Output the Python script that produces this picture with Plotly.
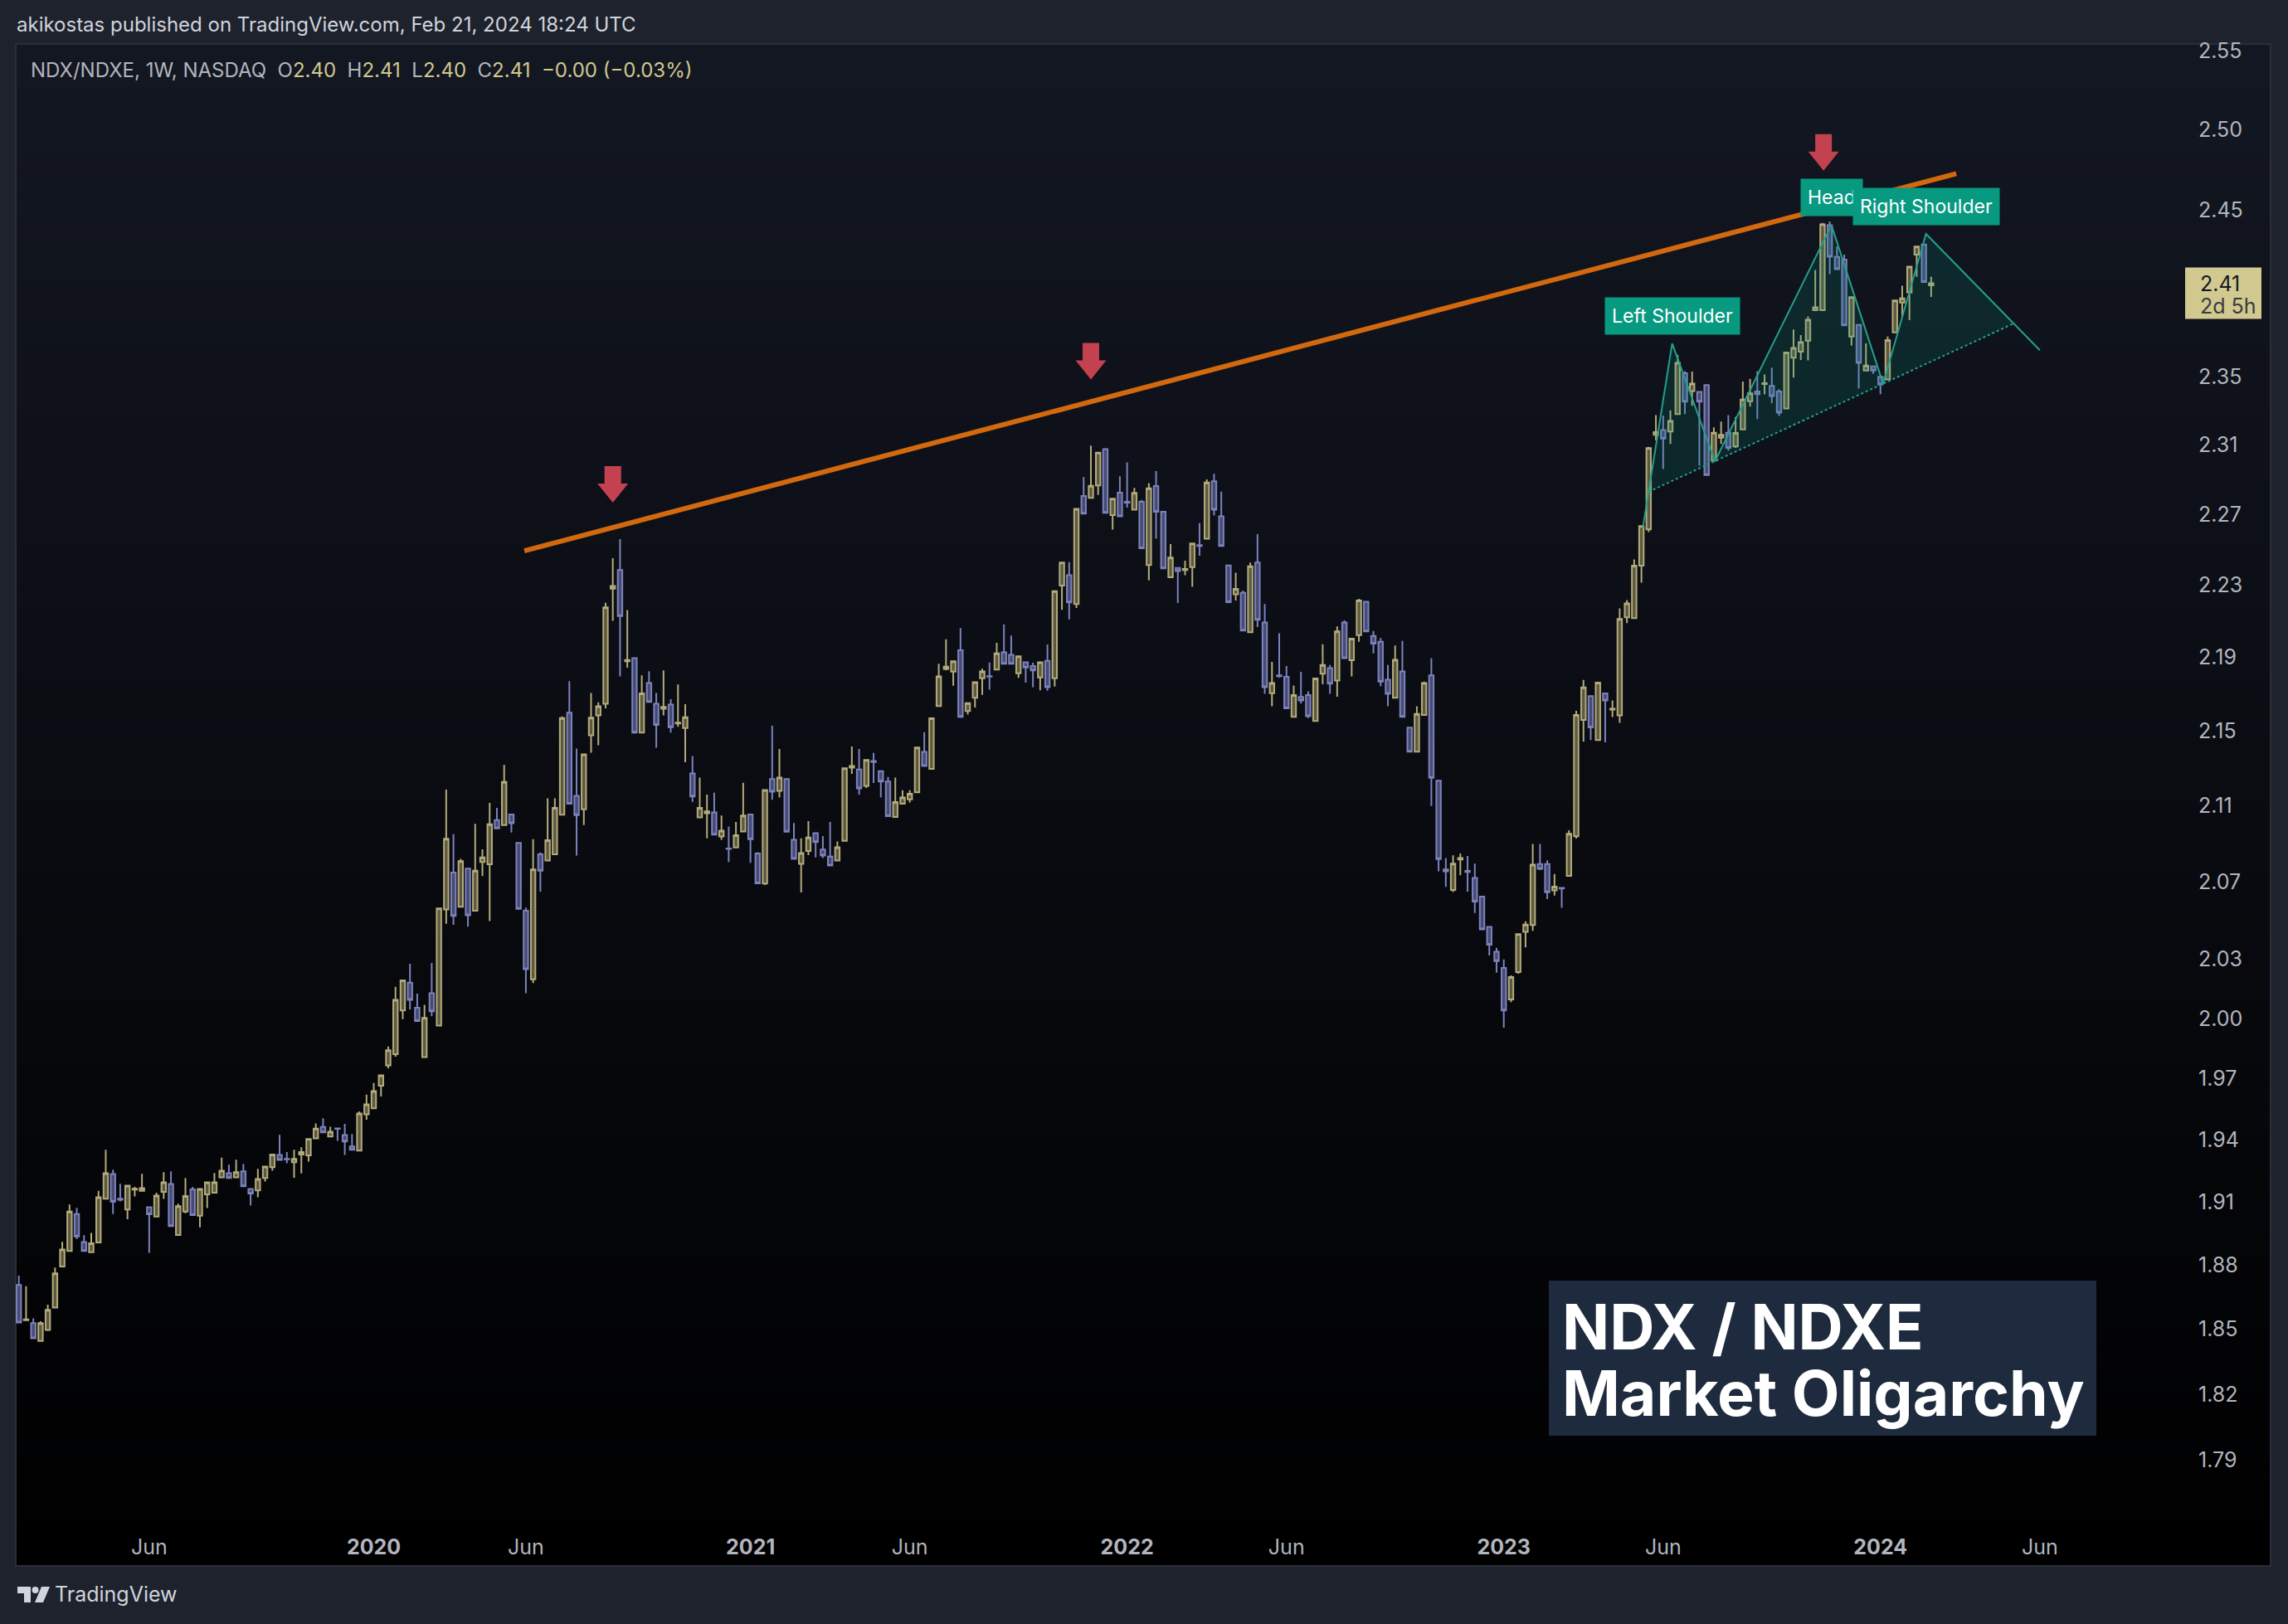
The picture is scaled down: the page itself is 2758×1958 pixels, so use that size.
import numpy as np
import pandas as pd
import plotly.graph_objects as go

# ---------------- DATA (NDX/NDXE weekly bars) ----------------
first_week = "2019-01-28"
n_weeks = 265
dates = pd.date_range(first_week, periods=n_weeks, freq="7D")

open_ = [
    1.8706, 1.8541, 1.8527, 1.8444, 1.8495, 1.8600, 1.8792, 1.8866, 1.9042, 1.8908,
    1.8860, 1.8906, 1.9115, 1.9234, 1.9115, 1.9063, 1.9159, 1.9153, 1.9074, 1.9030,
    1.9148, 1.9186, 1.8942, 1.9054, 1.9160, 1.9034, 1.9136, 1.9144, 1.9218, 1.9238,
    1.9218, 1.9247, 1.9162, 1.9155, 1.9215, 1.9267, 1.9326, 1.9307, 1.9291, 1.9328,
    1.9324, 1.9407, 1.9463, 1.9416, 1.9456, 1.9423, 1.9368, 1.9348, 1.9525, 1.9554,
    1.9665, 1.9766, 1.9822, 2.0041, 2.0181, 2.0054, 1.9807, 2.0127, 1.9965, 2.0555,
    2.0747, 2.0569, 2.0767, 2.0549, 2.0802, 2.0790, 2.1022, 2.0996, 2.1052, 2.0902,
    2.0549, 2.0198, 2.0842, 2.0810, 2.0842, 2.1050, 2.1597, 2.1151, 2.1079, 2.1475,
    2.1582, 2.1645, 2.2280, 2.2384, 2.1877, 2.1894, 2.1489, 2.1758, 2.1645, 2.1618,
    2.1641, 2.1538, 2.1514, 2.1270, 2.1036, 2.1058, 2.1062, 2.0936, 2.0873, 2.0878,
    2.0962, 2.1052, 2.0846, 2.0690, 2.1240, 2.1177, 2.1240, 2.0918, 2.0792, 2.0860,
    2.0953, 2.0867, 2.0830, 2.0810, 2.0913, 2.1301, 2.1291, 2.1203, 2.1336, 2.1282,
    2.1227, 2.1038, 2.1109, 2.1132, 2.1169, 2.1385, 2.1294, 2.1633, 2.1835, 2.1821,
    2.1938, 2.1606, 2.1678, 2.1784, 2.1796, 2.1832, 2.1926, 2.1913, 2.1812, 2.1872,
    2.1851, 2.1789, 2.1880, 2.1784, 2.2297, 2.2355, 2.2194, 2.2804, 2.2794, 2.2865,
    2.3075, 2.2695, 2.2823, 2.2771, 2.2726, 2.2771, 2.2412, 2.2862, 2.2715, 2.2344,
    2.2396, 2.2385, 2.2401, 2.2525, 2.2561, 2.2889, 2.2689, 2.2410, 2.2249, 2.2257,
    2.2038, 2.2427, 2.2092, 2.1703, 2.1800, 2.1792, 2.1574, 2.1682, 2.1692, 2.1552,
    2.1809, 2.1840, 2.1772, 2.2092, 2.1883, 2.2021, 2.2207, 2.2017, 2.1985, 2.1776,
    2.1678, 2.1822, 2.1516, 2.1386, 2.1584, 2.1800, 2.1231, 2.0763, 2.0656, 2.0815,
    2.0755, 2.0719, 2.0622, 2.0466, 2.0338, 2.0256, 2.0096, 2.0235, 2.0440, 2.0475,
    2.0791, 2.0791, 2.0654, 2.0667, 2.0730, 2.0937, 2.1557, 2.1687, 2.1449, 2.1702,
    2.1614, 2.1582, 2.2120, 2.2116, 2.2409, 2.2614, 2.3157, 2.3185, 2.3177, 2.3279,
    2.3518, 2.3413, 2.3408, 2.3449, 2.3008, 2.3141, 2.3170, 2.3090, 2.3189, 2.3354,
    2.3411, 2.3455, 2.3444, 2.3411, 2.3311, 2.3610, 2.3646, 2.3712, 2.3894, 2.3894,
    2.4410, 2.4216, 2.4199, 2.3736, 2.3806, 2.3534, 2.3559, 2.3498, 2.3482, 2.3761,
    2.3940, 2.4001, 2.4229, 2.4291, 2.4044]

high = [
    1.8749, 1.8700, 1.8549, 1.8536, 1.8613, 1.8788, 1.8909, 1.9087, 1.9071, 1.8941,
    1.8952, 1.9153, 1.9352, 1.9255, 1.9187, 1.9178, 1.9172, 1.9235, 1.9074, 1.9144,
    1.9243, 1.9247, 1.9091, 1.9215, 1.9172, 1.9162, 1.9194, 1.9239, 1.9313, 1.9279,
    1.9303, 1.9283, 1.9162, 1.9259, 1.9270, 1.9328, 1.9424, 1.9340, 1.9352, 1.9364,
    1.9404, 1.9480, 1.9505, 1.9464, 1.9456, 1.9478, 1.9428, 1.9539, 1.9621, 1.9679,
    1.9717, 1.9860, 2.0160, 2.0193, 2.0277, 2.0125, 2.0069, 2.0281, 2.0565, 2.1183,
    2.0948, 2.0818, 2.0767, 2.1002, 2.0868, 2.1113, 2.1087, 2.1315, 2.1052, 2.0902,
    2.0565, 2.0922, 2.0852, 2.1137, 2.1137, 2.1576, 2.1768, 2.1403, 2.1372, 2.1704,
    2.1653, 2.2201, 2.2451, 2.2559, 2.2161, 2.1894, 2.1800, 2.1823, 2.1704, 2.1827,
    2.1670, 2.1750, 2.1643, 2.1363, 2.1248, 2.1157, 2.1167, 2.1046, 2.0988, 2.1012,
    2.1220, 2.1052, 2.0853, 2.1181, 2.1526, 2.1401, 2.1240, 2.1007, 2.0926, 2.1017,
    2.0953, 2.0938, 2.1012, 2.0910, 2.1298, 2.1414, 2.1401, 2.1342, 2.1380, 2.1282,
    2.1251, 2.1248, 2.1180, 2.1180, 2.1409, 2.1491, 2.1566, 2.1864, 2.1998, 2.1877,
    2.2060, 2.1649, 2.1763, 2.1837, 2.1871, 2.1979, 2.2081, 2.2019, 2.1905, 2.1872,
    2.1869, 2.1872, 2.1970, 2.2266, 2.2427, 2.2429, 2.2731, 2.2913, 2.3095, 2.3054,
    2.3080, 2.2789, 2.2918, 2.2998, 2.2851, 2.2782, 2.2878, 2.2947, 2.2715, 2.2531,
    2.2396, 2.2437, 2.2534, 2.2649, 2.2900, 2.2932, 2.2829, 2.2410, 2.2369, 2.2270,
    2.2427, 2.2587, 2.2194, 2.1874, 2.2032, 2.1851, 2.1745, 2.1820, 2.1713, 2.1783,
    2.1971, 2.1857, 2.2070, 2.2103, 2.2002, 2.2223, 2.2207, 2.2045, 2.2006, 2.1857,
    2.1964, 2.1989, 2.1516, 2.1632, 2.1766, 2.1895, 2.1231, 2.0823, 2.0837, 2.0847,
    2.0833, 2.0793, 2.0622, 2.0466, 2.0358, 2.0299, 2.0218, 2.0428, 2.0495, 2.0896,
    2.0897, 2.0811, 2.0739, 2.0667, 2.0968, 2.1607, 2.1775, 2.1687, 2.1760, 2.1702,
    2.1663, 2.2170, 2.2216, 2.2444, 2.2633, 2.3088, 2.3273, 2.3270, 2.3300, 2.3626,
    2.3531, 2.3528, 2.3408, 2.3449, 2.3201, 2.3235, 2.3273, 2.3262, 2.3470, 2.3485,
    2.3531, 2.3511, 2.3552, 2.3424, 2.3641, 2.3778, 2.3745, 2.3856, 2.4137, 2.4424,
    2.4432, 2.4279, 2.4229, 2.3972, 2.3806, 2.3695, 2.3564, 2.3498, 2.3736, 2.3957,
    2.4041, 2.4157, 2.4284, 2.4296, 2.4095]

low = [
    1.8526, 1.8541, 1.8453, 1.8444, 1.8491, 1.8600, 1.8792, 1.8866, 1.8922, 1.8866,
    1.8860, 1.8906, 1.9115, 1.9042, 1.9102, 1.9017, 1.9126, 1.9153, 1.8857, 1.9030,
    1.9114, 1.8984, 1.8938, 1.9046, 1.9037, 1.8978, 1.9070, 1.9144, 1.9218, 1.9215,
    1.9218, 1.9175, 1.9082, 1.9122, 1.9198, 1.9250, 1.9302, 1.9286, 1.9216, 1.9237,
    1.9294, 1.9407, 1.9436, 1.9416, 1.9395, 1.9326, 1.9352, 1.9348, 1.9498, 1.9554,
    1.9612, 1.9752, 1.9809, 1.9997, 2.0045, 1.9988, 1.9807, 2.0012, 1.9965, 2.0482,
    2.0476, 2.0569, 2.0467, 2.0549, 2.0729, 2.0496, 2.0978, 2.0996, 2.0956, 2.0559,
    2.0127, 2.0179, 2.0648, 2.0810, 2.0842, 2.1050, 2.1109, 2.0836, 2.0996, 2.1381,
    2.1421, 2.1620, 2.2101, 2.1794, 2.1842, 2.1483, 2.1489, 2.1655, 2.1407, 2.1582,
    2.1489, 2.1520, 2.1330, 2.1119, 2.1036, 2.0926, 2.0946, 2.0918, 2.0802, 2.0878,
    2.0962, 2.0798, 2.0691, 2.0682, 2.1129, 2.1142, 2.0958, 2.0818, 2.0643, 2.0838,
    2.0826, 2.0823, 2.0784, 2.0810, 2.0913, 2.1268, 2.1156, 2.1192, 2.1219, 2.1142,
    2.1043, 2.1038, 2.1109, 2.1114, 2.1169, 2.1310, 2.1294, 2.1633, 2.1827, 2.1744,
    2.1569, 2.1587, 2.1625, 2.1694, 2.1722, 2.1832, 2.1864, 2.1864, 2.1787, 2.1760,
    2.1736, 2.1719, 2.1716, 2.1739, 2.2162, 2.2109, 2.2172, 2.2704, 2.2794, 2.2811,
    2.2709, 2.2613, 2.2689, 2.2738, 2.2726, 2.2507, 2.2326, 2.2561, 2.2394, 2.2344,
    2.2200, 2.2355, 2.2290, 2.2465, 2.2561, 2.2693, 2.2520, 2.2205, 2.2214, 2.2047,
    2.2038, 2.2066, 2.1699, 2.1632, 2.1788, 2.1620, 2.1574, 2.1646, 2.1567, 2.1552,
    2.1751, 2.1699, 2.1684, 2.1895, 2.1794, 2.1985, 2.2042, 2.1921, 2.1741, 2.1632,
    2.1678, 2.1574, 2.1386, 2.1386, 2.1584, 2.1097, 2.0753, 2.0672, 2.0646, 2.0733,
    2.0648, 2.0537, 2.0453, 2.0319, 2.0232, 1.9954, 2.0082, 2.0226, 2.0361, 2.0445,
    2.0760, 2.0609, 2.0627, 2.0564, 2.0730, 2.0925, 2.1440, 2.1449, 2.1449, 2.1436,
    2.1573, 2.1542, 2.2088, 2.2116, 2.2314, 2.2599, 2.3125, 2.2960, 2.3104, 2.3279,
    2.3279, 2.3327, 2.2978, 2.2925, 2.3005, 2.3104, 2.3066, 2.3082, 2.3189, 2.3322,
    2.3249, 2.3395, 2.3341, 2.3267, 2.3311, 2.3493, 2.3597, 2.3594, 2.3894, 2.3894,
    2.4111, 2.4142, 2.3799, 2.3682, 2.3428, 2.3534, 2.3515, 2.3395, 2.3482, 2.3761,
    2.3848, 2.3834, 2.4095, 2.4064, 2.3974]

close = [
    1.8530, 1.8545, 1.8457, 1.8527, 1.8589, 1.8760, 1.8873, 1.9054, 1.8935, 1.8866,
    1.8902, 1.9122, 1.9238, 1.9101, 1.9110, 1.9178, 1.9163, 1.9166, 1.9041, 1.9130,
    1.9194, 1.8984, 1.9079, 1.9128, 1.9037, 1.9162, 1.9194, 1.9194, 1.9250, 1.9215,
    1.9243, 1.9175, 1.9140, 1.9210, 1.9270, 1.9328, 1.9302, 1.9305, 1.9307, 1.9340,
    1.9404, 1.9455, 1.9436, 1.9439, 1.9454, 1.9392, 1.9352, 1.9529, 1.9573, 1.9639,
    1.9717, 1.9841, 2.0094, 2.0193, 2.0094, 1.9988, 2.0003, 2.0037, 2.0561, 2.0924,
    2.0522, 2.0806, 2.0526, 2.0757, 2.0826, 2.1000, 2.0978, 2.1224, 2.1006, 2.0559,
    2.0249, 2.0763, 2.0757, 2.0916, 2.1087, 2.1568, 2.1109, 2.1048, 2.1372, 2.1570,
    2.1632, 2.2176, 2.2295, 2.2127, 2.1884, 2.1489, 2.1702, 2.1655, 2.1530, 2.1628,
    2.1518, 2.1543, 2.1572, 2.1147, 2.1087, 2.1068, 2.0946, 2.0966, 2.0870, 2.0942,
    2.1046, 2.0922, 2.0691, 2.1181, 2.1172, 2.1248, 2.0961, 2.0818, 2.0849, 2.0930,
    2.0906, 2.0836, 2.0784, 2.0879, 2.1298, 2.1310, 2.1190, 2.1342, 2.1331, 2.1227,
    2.1043, 2.1117, 2.1142, 2.1161, 2.1409, 2.1310, 2.1566, 2.1795, 2.1848, 2.1877,
    2.1574, 2.1649, 2.1763, 2.1822, 2.1793, 2.1921, 2.1864, 2.1864, 2.1905, 2.1843,
    2.1827, 2.1872, 2.1736, 2.2266, 2.2427, 2.2203, 2.2731, 2.2704, 2.2863, 2.3054,
    2.2709, 2.2789, 2.2689, 2.2767, 2.2822, 2.2507, 2.2849, 2.2715, 2.2394, 2.2455,
    2.2379, 2.2390, 2.2534, 2.2520, 2.2882, 2.2726, 2.2520, 2.2205, 2.2279, 2.2047,
    2.2405, 2.2107, 2.1735, 2.1758, 2.1796, 2.1620, 2.1692, 2.1663, 2.1578, 2.1783,
    2.1857, 2.1755, 2.2042, 2.1895, 2.2002, 2.2214, 2.2042, 2.1975, 2.1766, 2.1699,
    2.1885, 2.1574, 2.1386, 2.1590, 2.1758, 2.1247, 2.0817, 2.0753, 2.0793, 2.0823,
    2.0750, 2.0596, 2.0453, 2.0374, 2.0291, 2.0041, 2.0209, 2.0428, 2.0477, 2.0788,
    2.0766, 2.0645, 2.0673, 2.0664, 2.0950, 2.1584, 2.1734, 2.1517, 2.1760, 2.1663,
    2.1618, 2.2111, 2.2198, 2.2409, 2.2633, 2.3080, 2.3173, 2.3136, 2.3238, 2.3580,
    2.3351, 2.3457, 2.3351, 2.2925, 2.3170, 2.3157, 2.3082, 2.3168, 2.3364, 2.3400,
    2.3395, 2.3460, 2.3384, 2.3287, 2.3641, 2.3669, 2.3703, 2.3836, 2.3911, 2.4415,
    2.4217, 2.4142, 2.3803, 2.3972, 2.3580, 2.3564, 2.3534, 2.3452, 2.3715, 2.3952,
    2.3965, 2.4157, 2.4279, 2.4064, 2.4056]

# Price-scale ticks and time-scale ticks
y_ticks = [1.79, 1.82, 1.85, 1.88, 1.91, 1.94, 1.97, 2.00, 2.03, 2.07, 2.11,
           2.15, 2.19, 2.23, 2.27, 2.31, 2.35, 2.45, 2.50, 2.55]
x_tick_dates = ["2019-06-03", "2020-01-06", "2020-06-01", "2021-01-04", "2021-06-07",
                "2022-01-03", "2022-06-06", "2023-01-02", "2023-06-05", "2024-01-01",
                "2024-06-03"]
x_tick_labels = ["Jun", "2020", "Jun", "2021", "Jun", "2022", "Jun", "2023", "Jun", "2024", "Jun"]

# Drawings
trend_dates = ["2020-05-30 12:00", "2024-03-14 07:00"]
trend_values = [2.2493, 2.4727]

arrow_dates = ["2020-08-24", "2021-11-29", "2023-11-07"]
arrow_values = [2.2766, 2.3482, 2.4746]

hs_dates = ["2023-05-16 10:00", "2023-06-13 17:00", "2023-07-25 03:00", "2023-11-14 15:00",
            "2024-01-03 14:00", "2024-02-14 00:00", "2024-06-03 00:00"]
hs_values = [2.2624, 2.3695, 2.3005, 2.4410, 2.3457, 2.4356, 2.3655]
hs_labels = {1: "Left Shoulder", 3: "Head", 5: "Right Shoulder"}

last_close = close[-1]

# ---------------- STYLE ----------------
W, H = 2758, 1958
ML, MR, MT, MB = 19, 124, 53, 122
PW, PH = W - ML - MR, H - MT - MB
PAGE_BG = "#1e222d"
UP, UP_FILL = "#b3ab7b", "#5d5941"
DN, DN_FILL = "#7c82bd", "#474b70"
ORANGE = "#d2690e"
TEAL = "#22a08b"
TEAL_BG = "#089981"
ARROW_RED = "#c4424f"
LABEL_YELLOW = "#d1c98f"
TXT = "#b2b5be"
FONT = "Inter, Roboto, sans-serif"

Y_BOTTOM, Y_TOP = 1.7621, 2.5546
X_RANGE = ["2019-01-25 01:00", "2024-10-21 10:00"]


def pxx(px):
    return (px - ML) / PW


def pxy(py):
    return (H - MB - py) / PH


fig = go.Figure()

# Candles
fig.add_trace(go.Candlestick(
    x=dates, open=open_, high=high, low=low, close=close,
    increasing=dict(line=dict(color=UP, width=2), fillcolor=UP_FILL),
    decreasing=dict(line=dict(color=DN, width=2), fillcolor=DN_FILL),
    whiskerwidth=0, hoverinfo="skip", showlegend=False))

# Head & shoulders geometry (neckline through the two troughs, extended to the outer legs)
t = pd.to_datetime(hs_dates).astype("int64").to_numpy() / 1e9
lv = np.log10(hs_values)


def intersect(a, b, c, d):
    p, r = np.array([t[a], lv[a]]), np.array([t[b] - t[a], lv[b] - lv[a]])
    q, s = np.array([t[c], lv[c]]), np.array([t[d] - t[c], lv[d] - lv[c]])
    cross = r[0] * s[1] - r[1] * s[0]
    u = ((q - p)[0] * s[1] - (q - p)[1] * s[0]) / cross
    return p + u * r


xl = intersect(0, 1, 2, 4)
xr = intersect(5, 6, 2, 4)
to_date = lambda sec: pd.to_datetime(sec, unit="s")
poly_t = [xl[0], t[1], t[2], t[3], t[4], t[5], xr[0], xl[0]]
poly_v = [xl[1], lv[1], lv[2], lv[3], lv[4], lv[5], xr[1], xl[1]]
fig.add_trace(go.Scatter(
    x=[to_date(s) for s in poly_t], y=[10 ** v for v in poly_v],
    mode="lines", fill="toself", fillcolor="rgba(8,153,129,0.16)",
    line=dict(width=0), hoverinfo="skip", showlegend=False))
fig.add_trace(go.Scatter(
    x=[to_date(xl[0]), to_date(xr[0])], y=[10 ** xl[1], 10 ** xr[1]],
    mode="lines", line=dict(color=TEAL, width=2, dash="dot"),
    hoverinfo="skip", showlegend=False))
fig.add_trace(go.Scatter(
    x=pd.to_datetime(hs_dates), y=hs_values, mode="lines",
    line=dict(color=TEAL, width=2), hoverinfo="skip", showlegend=False))

# Orange resistance trendline
fig.add_trace(go.Scatter(
    x=pd.to_datetime(trend_dates), y=trend_values, mode="lines",
    line=dict(color=ORANGE, width=6), hoverinfo="skip", showlegend=False))

shapes = []
# Panel background gradient (top #131722 -> bottom black)
top_rgb, bot_rgb = np.array([19, 23, 34]), np.array([0, 0, 0])
panel_top, panel_bot = 53, 1888
nb = 70
for k in range(nb):
    y0 = panel_top + (panel_bot - panel_top) * k / nb
    y1 = panel_top + (panel_bot - panel_top) * (k + 1) / nb
    f = (k + 0.5) / nb
    c = np.round(top_rgb * (1 - f) + bot_rgb * f).astype(int)
    shapes.append(dict(type="rect", xref="paper", yref="paper", layer="below",
                       x0=pxx(19), x1=pxx(2737), y0=pxy(y1 + 0.6), y1=pxy(y0),
                       fillcolor=f"rgb({c[0]},{c[1]},{c[2]})", line=dict(width=0)))
shapes.append(dict(type="rect", xref="paper", yref="paper", layer="below",
                   x0=pxx(19), x1=pxx(2737), y0=pxy(panel_bot), y1=pxy(panel_top),
                   fillcolor="rgba(0,0,0,0)", line=dict(color="#2a2e39", width=2)))

# Red arrow marks
arrow_path = "M -10,44 L 10,44 L 10,23 L 18.5,23 L 0,0 L -18.5,23 L -10,23 Z"
for d, v in zip(arrow_dates, arrow_values):
    shapes.append(dict(type="path", xref="x", yref="y", xsizemode="pixel", ysizemode="pixel",
                       xanchor=d, yanchor=v, path=arrow_path,
                       fillcolor=ARROW_RED, line=dict(width=0), layer="above"))

# Last price label box on the price scale (pixel row of the last close on the log scale)
frac = (np.log10(Y_TOP) - np.log10(last_close)) / (np.log10(Y_TOP) - np.log10(Y_BOTTOM))
price_py = MT + PH * frac
shapes.append(dict(type="rect", xref="paper", yref="paper",
                   x0=pxx(W - MR), x1=pxx(W - MR + 92), y0=pxy(price_py + 43), y1=pxy(price_py - 19),
                   fillcolor=LABEL_YELLOW, line=dict(width=0), layer="above"))

# Title box
shapes.append(dict(type="rect", xref="paper", yref="paper", x0=pxx(1867), x1=pxx(2527),
                   y0=pxy(1731), y1=pxy(1544), fillcolor="#1e2a3d", line=dict(width=0),
                   layer="above"))

# TradingView logo (bottom-left)
logo_anchor = dict(xref="paper", yref="paper", xsizemode="pixel", ysizemode="pixel",
                   xanchor=pxx(21), yanchor=pxy(1913), line=dict(width=0), fillcolor="#d1d4dc")
shapes.append(dict(type="path", path="M 0,0 L 16,0 L 16,-19 L 8,-19 L 8,-8 L 0,-8 Z", **logo_anchor))
shapes.append(dict(type="circle", x0=17.5, x1=25.5, y0=-8, y1=0, **logo_anchor))
shapes.append(dict(type="path", path="M 29,0 L 39,0 L 31,-19 L 21,-19 Z", **logo_anchor))

annotations = []
annotations.append(dict(xref="paper", yref="paper", x=pxx(18), y=pxy(30), xanchor="left",
                        yanchor="middle", showarrow=False,
                        text="akikostas published on TradingView.com, Feb 21, 2024 18:24 UTC",
                        font=dict(family=FONT, size=24, color="#d1d4dc")))


def yv(s):
    return f'<span style="color:{LABEL_YELLOW}">{s}</span>'


sym_text = ("NDX/NDXE, 1W, NASDAQ\u00a0\u00a0O" + yv("2.40") + "\u00a0\u00a0H" + yv("2.41")
            + "\u00a0\u00a0L" + yv("2.40") + "\u00a0\u00a0C" + yv("2.41") + "\u00a0\u00a0"
            + yv("\u22120.00 (\u22120.03%)"))
annotations.append(dict(xref="paper", yref="paper", x=pxx(35), y=pxy(84), xanchor="left",
                        yanchor="middle", showarrow=False, text=sym_text,
                        font=dict(family=FONT, size=24, color=TXT)))

for idx in (1, 3, 5):
    annotations.append(dict(x=hs_dates[idx], y=np.log10(hs_values[idx]), xref="x", yref="y",
                            xanchor="center", yanchor="bottom", yshift=10, showarrow=False,
                            text=hs_labels[idx], bgcolor=TEAL_BG, borderpad=8,
                            font=dict(family=FONT, size=23, color="white")))

annotations.append(dict(xref="paper", yref="paper", x=1, y=pxy(price_py), xanchor="left",
                        yanchor="middle", xshift=16, showarrow=False, text=f"{last_close:.2f}",
                        font=dict(family=FONT, size=25, color="#131722")))
annotations.append(dict(xref="paper", yref="paper", x=1, y=pxy(price_py + 27), xanchor="left",
                        yanchor="middle", xshift=16, showarrow=False, text="2d 5h",
                        font=dict(family=FONT, size=25, color="#3a3b3f")))

annotations.append(dict(xref="paper", yref="paper", x=pxx(1881), y=pxy(1599), xanchor="left",
                        yanchor="middle", showarrow=False, text="NDX / NDXE",
                        font=dict(family="Inter", size=75, color="white", weight=700)))
annotations.append(dict(xref="paper", yref="paper", x=pxx(1881), y=pxy(1679), xanchor="left",
                        yanchor="middle", showarrow=False, text="Market Oligarchy",
                        font=dict(family="Inter", size=75, color="white", weight=700)))

annotations.append(dict(xref="paper", yref="paper", x=pxx(64), y=pxy(1922), xanchor="left",
                        yanchor="middle", showarrow=False, text="TradingView",
                        font=dict(family=FONT, size=25, color="#d1d4dc")))

x_tick_text = [f"<b>{s}</b>" if s.isdigit() else s for s in x_tick_labels]

fig.update_layout(
    width=W, height=H,
    margin=dict(l=ML, r=MR, t=MT, b=MB, pad=0),
    paper_bgcolor=PAGE_BG, plot_bgcolor="rgba(0,0,0,0)",
    showlegend=False, hovermode=False,
    boxgap=0.38, boxgroupgap=0,
    font=dict(family=FONT, color=TXT, size=25),
    shapes=shapes, annotations=annotations,
    xaxis=dict(type="date", range=X_RANGE, rangeslider=dict(visible=False),
               tickmode="array", tickvals=x_tick_dates, ticktext=x_tick_text,
               showgrid=False, zeroline=False, showline=False, ticks="",
               ticklabelstandoff=12, tickfont=dict(family=FONT, size=25, color=TXT)),
    yaxis=dict(type="log", side="right", range=[np.log10(Y_BOTTOM), np.log10(Y_TOP)],
               tickmode="array", tickvals=y_ticks, ticktext=[f"{v:.2f}" for v in y_ticks],
               showgrid=False, zeroline=False, showline=False, ticks="",
               ticklabelstandoff=15, tickfont=dict(family=FONT, size=25, color=TXT)),
)

fig.write_html("out.html", config={"displayModeBar": False},
               post_script="document.body.style.margin='0px';")
